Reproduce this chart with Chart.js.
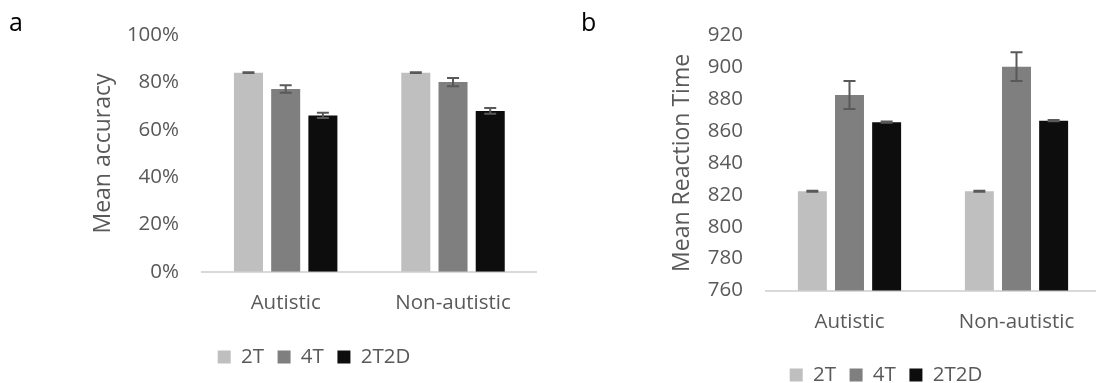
<!DOCTYPE html>
<html>
<head>
<meta charset="utf-8">
<script src="https://cdn.jsdelivr.net/npm/chart.js@4.4.1/dist/chart.umd.min.js"></script>
<style>
  html, body { margin: 0; padding: 0; background: #ffffff; }
  #wrap { position: relative; width: 1096px; height: 383px; overflow: hidden; background: #ffffff; }
  canvas { position: absolute; top: 0; }
  #cLeft { left: 0; }
  #cRight { left: 546px; }
  .panel { position: absolute; font-family: "Open Sans", sans-serif; font-size: 25px; color: #000; line-height: 1; }
</style>
</head>
<body>
<div id="wrap">
  <canvas id="cLeft" width="546" height="400" style="width:546px;height:400px"></canvas>
  <canvas id="cRight" width="560" height="400" style="width:560px;height:400px"></canvas>
  <div class="panel" style="left:9px;top:9px;">a</div>
  <div class="panel" style="left:581px;top:9px;">b</div>
</div>
<script>
// ---- data ----
const categories = ['Autistic', 'Non-autistic'];
const seriesNames = ['2T', '4T', '2T2D'];
const seriesColors = ['#bfbfbf', '#7f7f7f', '#0d0d0d'];

const accuracy2T   = [84.2, 84.2];
const accuracy4T   = [77.3, 80.2];
const accuracy2T2D = [66.1, 68.0];
const accuracyErr2T   = [0.2, 0.2];
const accuracyErr4T   = [1.6, 1.7];
const accuracyErr2T2D = [1.1, 1.2];

const rt2T   = [822.2, 822.2];
const rt4T   = [882.6, 900.3];
const rt2T2D = [865.5, 866.5];
const rtErr2T   = [0.3, 0.3];
const rtErr4T   = [8.8, 9.0];
const rtErr2T2D = [0.4, 0.4];

const accuracyTicks = [0, 20, 40, 60, 80, 100];
const rtTicks = [760, 780, 800, 820, 840, 860, 880, 900, 920];

const FONT = '"Open Sans", sans-serif';
const TEXT = '#595959';

const errorBarPlugin = {
  id: 'errorBars',
  afterDatasetsDraw(chart) {
    const ctx = chart.ctx;
    const y = chart.scales.y;
    ctx.save();
    ctx.strokeStyle = '#595959';
    ctx.lineWidth = 2;
    chart.data.datasets.forEach((ds, i) => {
      const meta = chart.getDatasetMeta(i);
      meta.data.forEach((bar, j) => {
        const v = ds.data[j], e = ds.errors[j];
        const yTop = y.getPixelForValue(v + e);
        const yBot = y.getPixelForValue(v - e);
        const x = bar.x, hw = 6;
        ctx.beginPath();
        ctx.moveTo(x, yTop); ctx.lineTo(x, yBot);
        ctx.moveTo(x - hw, yTop); ctx.lineTo(x + hw, yTop);
        ctx.moveTo(x - hw, yBot); ctx.lineTo(x + hw, yBot);
        ctx.stroke();
      });
    });
    ctx.restore();
  }
};

function makeChart(id, values, errors, ticks, tickFmt, title, cfg) {
  const datasets = seriesNames.map((name, i) => ({
    label: name,
    data: values[i],
    errors: errors[i],
    backgroundColor: seriesColors[i],
    borderWidth: 0,
    categoryPercentage: 0.667,
    barPercentage: 0.78
  }));
  return new Chart(document.getElementById(id), {
    type: 'bar',
    data: { labels: categories, datasets },
    plugins: [errorBarPlugin],
    options: {
      responsive: false,
      animation: false,
      devicePixelRatio: 1,
      layout: { padding: cfg.padding },
      plugins: {
        tooltip: { enabled: false },
        legend: {
          position: 'bottom',
          labels: {
            boxWidth: 13, boxHeight: 13, padding: 13.6,
            color: TEXT,
            font: { family: FONT, size: 20.5 }
          }
        }
      },
      scales: {
        x: {
          offset: true,
          grid: { display: false, drawTicks: false, tickLength: 0 },
          border: { display: true, color: '#d9d9d9', width: 2 },
          ticks: { color: TEXT, font: { family: FONT, size: 20.5 }, padding: cfg.xPad, maxRotation: 0 },
          afterFit: (s) => { s.height = cfg.xH; }
        },
        y: {
          min: ticks[0],
          max: ticks[ticks.length - 1],
          afterBuildTicks: (s) => { s.ticks = ticks.map(v => ({ value: v })); },
          grid: { display: false, drawTicks: false, tickLength: 0 },
          border: { display: false },
          ticks: { color: TEXT, font: { family: FONT, size: 20.5 }, padding: 23, callback: tickFmt },
          title: { display: true, text: title, color: TEXT, font: { family: FONT, size: 23 }, padding: { top: cfg.titlePad, bottom: 0 } },
          afterFit: (s) => { s.width = cfg.yW; }
        }
      }
    }
  });
}

makeChart('cLeft',
  [accuracy2T, accuracy4T, accuracy2T2D],
  [accuracyErr2T, accuracyErr4T, accuracyErr2T2D],
  accuracyTicks, (v) => v + '%', 'Mean accuracy',
  { padding: { left: 91.3, right: 9.3, top: 33, bottom: 22.75 }, yW: 110.7, xH: 61.45, xPad: 19.5, titlePad: -1.6 });

makeChart('cRight',
  [rt2T, rt4T, rt2T2D],
  [rtErr2T, rtErr4T, rtErr2T2D],
  rtTicks, (v) => String(v), 'Mean Reaction Time',
  { padding: { left: 126, right: 6, top: 33.3, bottom: 4.75 }, yW: 94, xH: 60.65, xPad: 19, titlePad: -3 });
</script>
</body>
</html>
